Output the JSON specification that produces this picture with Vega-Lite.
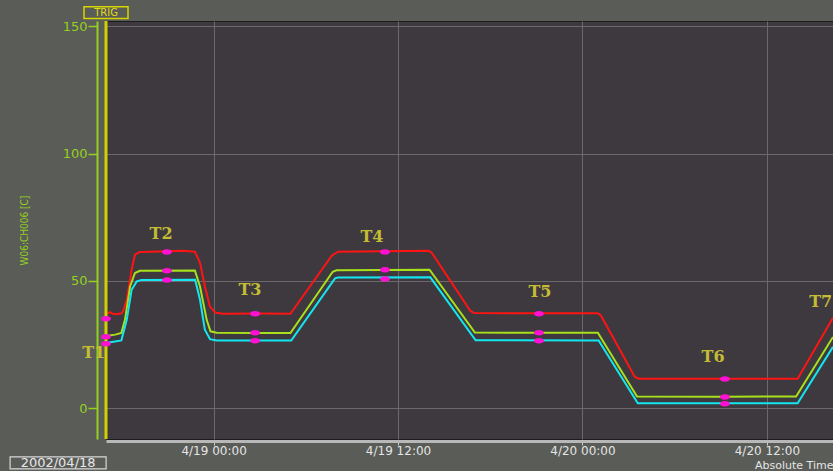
{
  "$schema": "https://vega.github.io/schema/vega-lite/v6.json",
  "width": 727,
  "height": 418,
  "autosize": {"type": "none"},
  "padding": {"left": 106, "top": 21, "right": 0, "bottom": 32},
  "background": "#5a5c58",
  "config": {
    "view": {"fill": "#3d393f", "stroke": "#1c1c1c", "strokeWidth": 1},
    "axis": {"gridColor": "#6c686e", "gridWidth": 1, "gridOpacity": 1}
  },
  "datasets": {
    "traces": [
      {"series": "red", "time": "2002-04-18T17:00:00", "value": 36.9},
      {"series": "red", "time": "2002-04-18T17:16:00", "value": 37.7},
      {"series": "red", "time": "2002-04-18T17:30:00", "value": 36.9},
      {"series": "red", "time": "2002-04-18T18:00:00", "value": 37.2},
      {"series": "red", "time": "2002-04-18T18:07:00", "value": 38.2},
      {"series": "red", "time": "2002-04-18T18:21:00", "value": 42.6},
      {"series": "red", "time": "2002-04-18T18:40:00", "value": 54.4},
      {"series": "red", "time": "2002-04-18T18:53:00", "value": 60.3},
      {"series": "red", "time": "2002-04-18T19:12:00", "value": 61.4},
      {"series": "red", "time": "2002-04-18T20:30:00", "value": 61.6},
      {"series": "red", "time": "2002-04-18T22:00:00", "value": 61.8},
      {"series": "red", "time": "2002-04-18T22:47:00", "value": 61.5},
      {"series": "red", "time": "2002-04-18T23:07:00", "value": 57.1},
      {"series": "red", "time": "2002-04-18T23:26:00", "value": 47.8},
      {"series": "red", "time": "2002-04-18T23:46:00", "value": 39.9},
      {"series": "red", "time": "2002-04-19T00:06:00", "value": 37.6},
      {"series": "red", "time": "2002-04-19T00:36:00", "value": 37.1},
      {"series": "red", "time": "2002-04-19T03:00:00", "value": 37.2},
      {"series": "red", "time": "2002-04-19T05:00:00", "value": 37.1},
      {"series": "red", "time": "2002-04-19T07:42:00", "value": 60.0},
      {"series": "red", "time": "2002-04-19T08:06:00", "value": 61.5},
      {"series": "red", "time": "2002-04-19T11:00:00", "value": 61.7},
      {"series": "red", "time": "2002-04-19T14:00:00", "value": 61.8},
      {"series": "red", "time": "2002-04-19T14:12:00", "value": 61.0},
      {"series": "red", "time": "2002-04-19T16:42:00", "value": 38.3},
      {"series": "red", "time": "2002-04-19T16:57:00", "value": 37.4},
      {"series": "red", "time": "2002-04-19T21:00:00", "value": 37.3},
      {"series": "red", "time": "2002-04-20T01:00:00", "value": 37.3},
      {"series": "red", "time": "2002-04-20T01:12:00", "value": 36.4},
      {"series": "red", "time": "2002-04-20T03:24:00", "value": 12.4},
      {"series": "red", "time": "2002-04-20T03:39:00", "value": 11.6},
      {"series": "red", "time": "2002-04-20T09:00:00", "value": 11.6},
      {"series": "red", "time": "2002-04-20T14:00:00", "value": 11.6},
      {"series": "red", "time": "2002-04-20T16:18:00", "value": 35.5},
      {"series": "green", "time": "2002-04-18T17:00:00", "value": 28.4},
      {"series": "green", "time": "2002-04-18T17:36:00", "value": 28.9},
      {"series": "green", "time": "2002-04-18T18:00:00", "value": 29.6},
      {"series": "green", "time": "2002-04-18T18:14:00", "value": 34.7},
      {"series": "green", "time": "2002-04-18T18:34:00", "value": 47.8},
      {"series": "green", "time": "2002-04-18T18:53:00", "value": 53.1},
      {"series": "green", "time": "2002-04-18T19:12:00", "value": 54.0},
      {"series": "green", "time": "2002-04-18T22:47:00", "value": 54.1},
      {"series": "green", "time": "2002-04-18T23:07:00", "value": 47.8},
      {"series": "green", "time": "2002-04-18T23:33:00", "value": 34.7},
      {"series": "green", "time": "2002-04-18T23:48:00", "value": 30.2},
      {"series": "green", "time": "2002-04-19T00:12:00", "value": 29.6},
      {"series": "green", "time": "2002-04-19T05:00:00", "value": 29.5},
      {"series": "green", "time": "2002-04-19T07:45:00", "value": 53.6},
      {"series": "green", "time": "2002-04-19T08:00:00", "value": 54.2},
      {"series": "green", "time": "2002-04-19T14:03:00", "value": 54.4},
      {"series": "green", "time": "2002-04-19T17:00:00", "value": 29.7},
      {"series": "green", "time": "2002-04-19T21:00:00", "value": 29.6},
      {"series": "green", "time": "2002-04-20T01:00:00", "value": 29.6},
      {"series": "green", "time": "2002-04-20T03:33:00", "value": 4.6},
      {"series": "green", "time": "2002-04-20T09:00:00", "value": 4.5},
      {"series": "green", "time": "2002-04-20T13:54:00", "value": 4.6},
      {"series": "green", "time": "2002-04-20T16:18:00", "value": 28.0},
      {"series": "cyan", "time": "2002-04-18T17:00:00", "value": 25.6},
      {"series": "cyan", "time": "2002-04-18T18:00:00", "value": 26.6},
      {"series": "cyan", "time": "2002-04-18T18:21:00", "value": 34.7},
      {"series": "cyan", "time": "2002-04-18T18:40:00", "value": 46.5},
      {"series": "cyan", "time": "2002-04-18T19:00:00", "value": 49.8},
      {"series": "cyan", "time": "2002-04-18T19:19:00", "value": 50.4},
      {"series": "cyan", "time": "2002-04-18T22:48:00", "value": 50.5},
      {"series": "cyan", "time": "2002-04-18T23:07:00", "value": 42.6},
      {"series": "cyan", "time": "2002-04-18T23:26:00", "value": 30.8},
      {"series": "cyan", "time": "2002-04-18T23:46:00", "value": 27.1},
      {"series": "cyan", "time": "2002-04-19T00:12:00", "value": 26.6},
      {"series": "cyan", "time": "2002-04-19T05:03:00", "value": 26.6},
      {"series": "cyan", "time": "2002-04-19T07:54:00", "value": 51.0},
      {"series": "cyan", "time": "2002-04-19T08:06:00", "value": 51.3},
      {"series": "cyan", "time": "2002-04-19T14:06:00", "value": 51.4},
      {"series": "cyan", "time": "2002-04-19T17:03:00", "value": 26.7},
      {"series": "cyan", "time": "2002-04-20T01:03:00", "value": 26.6},
      {"series": "cyan", "time": "2002-04-20T03:36:00", "value": 1.9},
      {"series": "cyan", "time": "2002-04-20T14:00:00", "value": 1.9},
      {"series": "cyan", "time": "2002-04-20T16:18:00", "value": 24.1}
    ],
    "markers": [
      {"series": "red", "time": "2002-04-18T17:00:00", "value": 35.1},
      {"series": "green", "time": "2002-04-18T17:00:00", "value": 28.1},
      {"series": "cyan", "time": "2002-04-18T17:00:00", "value": 25.3},
      {"series": "red", "time": "2002-04-18T20:58:00", "value": 61.4},
      {"series": "green", "time": "2002-04-18T20:58:00", "value": 54.0},
      {"series": "cyan", "time": "2002-04-18T20:58:00", "value": 50.4},
      {"series": "red", "time": "2002-04-19T02:42:00", "value": 37.1},
      {"series": "green", "time": "2002-04-19T02:42:00", "value": 29.6},
      {"series": "cyan", "time": "2002-04-19T02:42:00", "value": 26.5},
      {"series": "red", "time": "2002-04-19T11:09:00", "value": 61.4},
      {"series": "green", "time": "2002-04-19T11:09:00", "value": 54.4},
      {"series": "cyan", "time": "2002-04-19T11:09:00", "value": 50.8},
      {"series": "red", "time": "2002-04-19T21:10:00", "value": 37.1},
      {"series": "green", "time": "2002-04-19T21:10:00", "value": 29.6},
      {"series": "cyan", "time": "2002-04-19T21:10:00", "value": 26.5},
      {"series": "red", "time": "2002-04-20T09:16:00", "value": 11.5},
      {"series": "green", "time": "2002-04-20T09:16:00", "value": 4.4},
      {"series": "cyan", "time": "2002-04-20T09:16:00", "value": 1.7}
    ],
    "labels": [
      {"label": "T1", "time": "2002-04-18T16:12:00", "value": 21.7},
      {"label": "T2", "time": "2002-04-18T20:35:00", "value": 68.5},
      {"label": "T3", "time": "2002-04-19T02:22:00", "value": 46.5},
      {"label": "T4", "time": "2002-04-19T10:18:00", "value": 67.3},
      {"label": "T5", "time": "2002-04-19T21:14:00", "value": 45.7},
      {"label": "T6", "time": "2002-04-20T08:30:00", "value": 20.2},
      {"label": "T7", "time": "2002-04-20T15:30:00", "value": 41.8}
    ],
    "trig": [
      {"label": "TRIG", "time": "2002-04-18T17:00:00", "value": 155.4}
    ],
    "date": [
      {"label": "2002/04/18", "time": "2002-04-18T13:53:00", "value": -21.5}
    ]
  },
  "layer": [
    {
      "data": {"name": "traces"},
      "mark": {"type": "line", "strokeWidth": 2, "interpolate": "linear"},
      "encoding": {
        "x": {
          "field": "time", "type": "temporal",
          "scale": {"domain": [{"year": 2002, "month": 4, "date": 18, "hours": 17}, {"year": 2002, "month": 4, "date": 20, "hours": 16, "minutes": 18}]},
          "axis": {
            "values": [
              {"year": 2002, "month": 4, "date": 19, "hours": 0},
              {"year": 2002, "month": 4, "date": 19, "hours": 12},
              {"year": 2002, "month": 4, "date": 20, "hours": 0},
              {"year": 2002, "month": 4, "date": 20, "hours": 12}
            ],
            "format": "%-m/%d %H:%M",
            "labelColor": "#e4e4e4", "labelFont": "DejaVu Sans", "labelFontSize": 12,
            "labelPadding": 0, "labelFlush": false,
            "tickSize": 4, "tickColor": "#d0d0d0", "tickWidth": 1,
            "domainColor": "#b8b8b8", "domainWidth": 3, "offset": 2,
            "title": "Absolute Time", "titleAnchor": "end", "titleFont": "DejaVu Sans",
            "titleFontSize": 11, "titleFontWeight": "normal", "titleColor": "#e4e4e4",
            "titleBaseline": "alphabetic", "titleY": 27
          }
        },
        "y": {
          "field": "value", "type": "quantitative",
          "scale": {"domain": [-12.1, 152.1], "nice": false, "zero": false},
          "axis": {
            "values": [0, 50, 100, 150],
            "offset": 9,
            "domainColor": "#94d020", "domainWidth": 2,
            "tickColor": "#94d020", "tickSize": 9, "tickWidth": 1.5,
            "labelColor": "#94d020", "labelFont": "DejaVu Sans", "labelFontSize": 13, "labelPadding": 1,
            "title": "W06:CH006 [C]", "titleColor": "#94d020", "titleFont": "DejaVu Sans Condensed",
            "titleFontSize": 10, "titleFontWeight": "normal", "titlePadding": 33
          }
        },
        "color": {
          "field": "series", "type": "nominal",
          "scale": {"domain": ["red", "green", "cyan"], "range": ["#ff1414", "#a8e01c", "#14e6f0"]},
          "legend": null
        }
      }
    },
    {
      "data": {"name": "trig"},
      "mark": {"type": "rule", "color": "#d2d000", "strokeWidth": 3},
      "encoding": {
        "x": {"field": "time", "type": "temporal", "scale": {"domain": [{"year": 2002, "month": 4, "date": 18, "hours": 17}, {"year": 2002, "month": 4, "date": 20, "hours": 16, "minutes": 18}]}}
      }
    },
    {
      "data": {"name": "markers"},
      "mark": {"type": "point", "filled": true, "color": "#ff10d2", "opacity": 1, "size": 100, "shape": "M-1,0A1,0.55,0,1,0,1,0A1,0.55,0,1,0,-1,0Z"},
      "encoding": {
        "x": {"field": "time", "type": "temporal", "scale": {"domain": [{"year": 2002, "month": 4, "date": 18, "hours": 17}, {"year": 2002, "month": 4, "date": 20, "hours": 16, "minutes": 18}]}},
        "y": {"field": "value", "type": "quantitative", "scale": {"domain": [-12.1, 152.1], "nice": false, "zero": false}}
      }
    },
    {
      "data": {"name": "labels"},
      "mark": {"type": "text", "font": "DejaVu Serif", "fontSize": 16, "fontWeight": "bold", "color": "#c4bc34", "align": "center", "baseline": "middle"},
      "encoding": {
        "x": {"field": "time", "type": "temporal", "scale": {"domain": [{"year": 2002, "month": 4, "date": 18, "hours": 17}, {"year": 2002, "month": 4, "date": 20, "hours": 16, "minutes": 18}]}},
        "y": {"field": "value", "type": "quantitative", "scale": {"domain": [-12.1, 152.1], "nice": false, "zero": false}},
        "text": {"field": "label"}
      }
    },
    {
      "data": {"name": "trig"},
      "mark": {"type": "point", "filled": false, "stroke": "#d8d400", "strokeWidth": 1.5, "fill": "#5a5c58", "fillOpacity": 1, "opacity": 1, "size": 1936, "shape": "M-1,-0.27H1V0.27H-1Z"},
      "encoding": {
        "x": {"field": "time", "type": "temporal", "scale": {"domain": [{"year": 2002, "month": 4, "date": 18, "hours": 17}, {"year": 2002, "month": 4, "date": 20, "hours": 16, "minutes": 18}]}},
        "y": {"field": "value", "type": "quantitative", "scale": {"domain": [-12.1, 152.1], "nice": false, "zero": false}}
      }
    },
    {
      "data": {"name": "trig"},
      "mark": {"type": "text", "font": "DejaVu Sans", "fontSize": 10, "color": "#e0dc10", "align": "center", "baseline": "middle"},
      "encoding": {
        "x": {"field": "time", "type": "temporal", "scale": {"domain": [{"year": 2002, "month": 4, "date": 18, "hours": 17}, {"year": 2002, "month": 4, "date": 20, "hours": 16, "minutes": 18}]}},
        "y": {"field": "value", "type": "quantitative", "scale": {"domain": [-12.1, 152.1], "nice": false, "zero": false}},
        "text": {"field": "label"}
      }
    },
    {
      "data": {"name": "date"},
      "mark": {"type": "point", "filled": false, "stroke": "#d8d8d8", "strokeWidth": 1.2, "opacity": 1, "size": 9216, "shape": "M-1,-0.125H1V0.125H-1Z"},
      "encoding": {
        "x": {"field": "time", "type": "temporal", "scale": {"domain": [{"year": 2002, "month": 4, "date": 18, "hours": 17}, {"year": 2002, "month": 4, "date": 20, "hours": 16, "minutes": 18}]}},
        "y": {"field": "value", "type": "quantitative", "scale": {"domain": [-12.1, 152.1], "nice": false, "zero": false}}
      }
    },
    {
      "data": {"name": "date"},
      "mark": {"type": "text", "font": "DejaVu Sans", "fontSize": 13, "color": "#e8e8e8", "align": "center", "baseline": "middle"},
      "encoding": {
        "x": {"field": "time", "type": "temporal", "scale": {"domain": [{"year": 2002, "month": 4, "date": 18, "hours": 17}, {"year": 2002, "month": 4, "date": 20, "hours": 16, "minutes": 18}]}},
        "y": {"field": "value", "type": "quantitative", "scale": {"domain": [-12.1, 152.1], "nice": false, "zero": false}},
        "text": {"field": "label"}
      }
    }
  ]
}
